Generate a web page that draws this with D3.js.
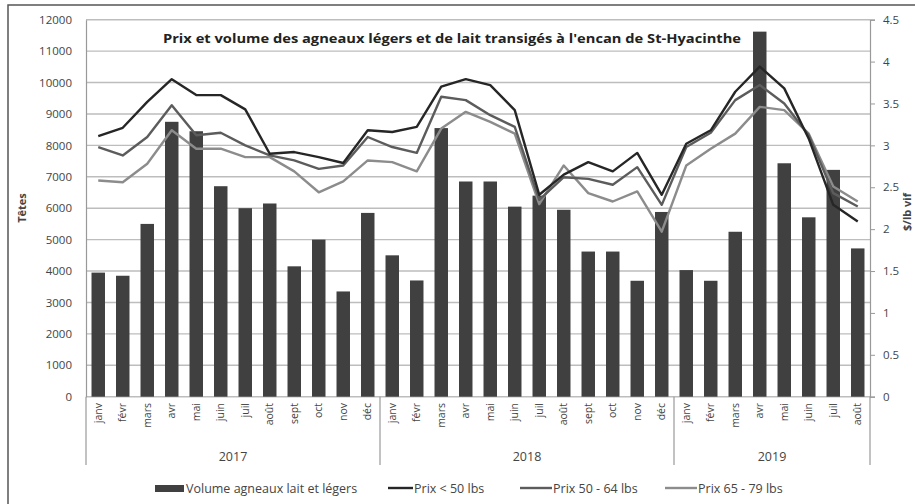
<!DOCTYPE html>
<html>
<head>
<meta charset="utf-8">
<script src="https://cdn.jsdelivr.net/npm/d3@7"></script>
<style>
  body { margin: 0; background: #fff; }
  svg { display: block; font-family: 'Open Sans', sans-serif; }
</style>
</head>
<body>
<div id="chart"></div>
<script>
// data
const months = ['janv', 'févr', 'mars', 'avr', 'mai', 'juin', 'juil', 'août', 'sept', 'oct', 'nov', 'déc'];
const years = ['2017', '2018', '2019'];
const monthsPerYear = [12, 12, 8];

const volume = [
  3950, 3850, 5500, 8750, 8450, 6700, 6000, 6150, 4150, 5000, 3350, 5850,
  4500, 3700, 8550, 6850, 6850, 6050, 6400, 5950, 4620, 4620, 3690, 5880,
  4030, 3690, 5250, 11620, 7430, 5710, 7220, 4720
];
const prixMoins50 = [
  3.11, 3.21, 3.52, 3.79, 3.60, 3.60, 3.43, 2.90, 2.92, 2.86, 2.79, 3.18,
  3.16, 3.22, 3.70, 3.79, 3.72, 3.42, 2.41, 2.65, 2.80, 2.69, 2.91, 2.41,
  3.02, 3.18, 3.64, 3.94, 3.68, 3.08, 2.29, 2.09
];
const prix50a64 = [
  2.98, 2.88, 3.10, 3.48, 3.12, 3.15, 3.00, 2.88, 2.82, 2.72, 2.76, 3.10,
  2.98, 2.91, 3.58, 3.54, 3.36, 3.22, 2.35, 2.62, 2.60, 2.53, 2.74, 2.29,
  2.98, 3.15, 3.54, 3.72, 3.50, 3.12, 2.43, 2.27
];
const prix65a79 = [
  2.58, 2.56, 2.78, 3.18, 2.96, 2.96, 2.86, 2.86, 2.69, 2.44, 2.57, 2.82,
  2.80, 2.69, 3.20, 3.40, 3.28, 3.14, 2.30, 2.76, 2.43, 2.33, 2.45, 1.97,
  2.76, 2.96, 3.14, 3.46, 3.42, 3.14, 2.51, 2.33
];
const leftTicks = d3.range(0, 12001, 1000);
const rightTicks = d3.range(0, 4.51, 0.5);

// categories: one per month, grouped by year
const cats = [];
years.forEach((yr, yi) => {
  for (let m = 0; m < monthsPerYear[yi]; m++) {
    cats.push({ key: yr + '-' + m, month: months[m], year: yr });
  }
});

const width = 915, height = 504;
const plotLeft = 86, plotRight = 870, plotTop = 19.7, plotBottom = 396.7;

const svg = d3.select('#chart').append('svg')
  .attr('width', width)
  .attr('height', height);

// outer frame (cut off at the right and bottom)
svg.append('rect')
  .attr('x', 8).attr('y', 5)
  .attr('width', 930).attr('height', 520)
  .attr('fill', 'none')
  .attr('stroke', '#555')
  .attr('stroke-width', 1.5);

const x = d3.scaleBand()
  .domain(cats.map(d => d.key))
  .range([plotLeft, plotRight])
  .paddingInner(0.45)
  .paddingOuter(0.225);

const yL = d3.scaleLinear().domain([0, 12000]).range([plotBottom, plotTop]);
const yR = d3.scaleLinear().domain([0, 4.5]).range([plotBottom, plotTop]);

// gridlines
svg.append('g')
  .selectAll('line')
  .data(leftTicks)
  .join('line')
    .attr('x1', plotLeft).attr('x2', plotRight)
    .attr('y1', d => yL(d)).attr('y2', d => yL(d))
    .attr('stroke', '#bdbdbd')
    .attr('stroke-width', 1.4);

// left axis
const axL = svg.append('g')
  .attr('transform', `translate(${plotLeft},0)`)
  .call(d3.axisLeft(yL).tickValues(leftTicks).tickFormat(d3.format('d')).tickSize(0).tickPadding(14));
axL.select('.domain').attr('stroke', '#999').attr('stroke-width', 1.2);
axL.selectAll('text').attr('font-size', 11.5).attr('fill', '#444').attr('font-family', 'Open Sans');

// right axis
const axR = svg.append('g')
  .attr('transform', `translate(${plotRight},0)`)
  .call(d3.axisRight(yR).tickValues(rightTicks).tickFormat(d => d3.format('')(d)).tickSize(5).tickPadding(8));
axR.select('.domain').attr('stroke', '#999').attr('stroke-width', 1.2);
axR.selectAll('.tick line').attr('stroke', '#999');
axR.selectAll('text').attr('font-size', 11.5).attr('fill', '#444').attr('font-family', 'Open Sans');

// bars
svg.append('g')
  .selectAll('rect')
  .data(cats)
  .join('rect')
    .attr('x', d => x(d.key))
    .attr('width', x.bandwidth())
    .attr('y', (d, i) => yL(volume[i]))
    .attr('height', (d, i) => plotBottom - yL(volume[i]))
    .attr('fill', '#404040');

// price lines
const series = [
  { name: 'Prix < 50 lbs', values: prixMoins50, color: '#262626' },
  { name: 'Prix 50 - 64 lbs', values: prix50a64, color: '#5c5c5c' },
  { name: 'Prix 65 - 79 lbs', values: prix65a79, color: '#8c8c8c' }
];
const line = d3.line()
  .x((d, i) => x(cats[i].key) + x.bandwidth() / 2)
  .y(d => yR(d));

svg.append('g')
  .selectAll('path')
  .data(series.slice().reverse())
  .join('path')
    .attr('d', d => line(d.values))
    .attr('fill', 'none')
    .attr('stroke', d => d.color)
    .attr('stroke-width', 2.4)
    .attr('stroke-linejoin', 'round');

// title
svg.append('text')
  .attr('x', 452).attr('y', 43)
  .attr('text-anchor', 'middle')
  .attr('font-family', 'Open Sans')
  .attr('font-weight', 'bold')
  .attr('font-size', 13)
  .attr('fill', '#222')
  .attr('textLength', 578)
  .attr('lengthAdjust', 'spacingAndGlyphs')
  .text("Prix et volume des agneaux légers et de lait transigés à l'encan de St-Hyacinthe");

// month labels
svg.append('g')
  .selectAll('text')
  .data(cats)
  .join('text')
    .attr('transform', d => `translate(${x(d.key) + x.bandwidth() / 2 + 3.5},403) rotate(-90)`)
    .attr('text-anchor', 'end')
    .attr('font-size', 10.5)
    .attr('fill', '#444')
    .text(d => d.month);

// year groups
let start = 0;
const groups = years.map((yr, yi) => {
  const g = { year: yr, first: cats[start].key, last: cats[start + monthsPerYear[yi] - 1].key };
  start += monthsPerYear[yi];
  return g;
});
const step = x.step();
const bounds = [plotLeft].concat(groups.map(g => x(g.last) - x.paddingInner() * step / 2 + step));
svg.append('g')
  .selectAll('line')
  .data(bounds)
  .join('line')
    .attr('x1', d => d).attr('x2', d => d)
    .attr('y1', plotBottom).attr('y2', 465)
    .attr('stroke', '#999')
    .attr('stroke-width', 1.2);

svg.append('g')
  .selectAll('text')
  .data(groups)
  .join('text')
    .attr('x', (d, i) => (bounds[i] + bounds[i + 1]) / 2)
    .attr('y', 461)
    .attr('text-anchor', 'middle')
    .attr('font-size', 12.5)
    .attr('fill', '#444')
    .text(d => d.year);

// axis titles
svg.append('text')
  .attr('transform', 'translate(26,208) rotate(-90)')
  .attr('text-anchor', 'middle')
  .attr('font-size', 11)
  .attr('font-weight', 'bold')
  .attr('fill', '#444')
  .text('Têtes');

svg.append('text')
  .attr('transform', 'translate(911,212) rotate(-90)')
  .attr('text-anchor', 'middle')
  .attr('font-size', 11)
  .attr('font-weight', 'bold')
  .attr('fill', '#444')
  .text('$/lb vif');

// legend
const legend = svg.append('g').attr('font-size', 12.5).attr('fill', '#444');
legend.append('rect')
  .attr('x', 155).attr('y', 485).attr('width', 29).attr('height', 7)
  .attr('fill', '#404040');
legend.append('text')
  .attr('x', 186).attr('y', 492.5)
  .attr('fill', '#444')
  .text('Volume agneaux lait et légers');

const lgStart = [388, 520, 665];
const lgEnd = [413, 552, 697];
series.forEach((s, i) => {
  legend.append('line')
    .attr('x1', lgStart[i]).attr('x2', lgEnd[i])
    .attr('y1', 488).attr('y2', 488)
    .attr('stroke', s.color)
    .attr('stroke-width', 2.4);
  legend.append('text')
    .attr('x', lgEnd[i] + 1).attr('y', 492.5)
    .attr('fill', '#444')
    .text(s.name);
});
</script>
</body>
</html>
